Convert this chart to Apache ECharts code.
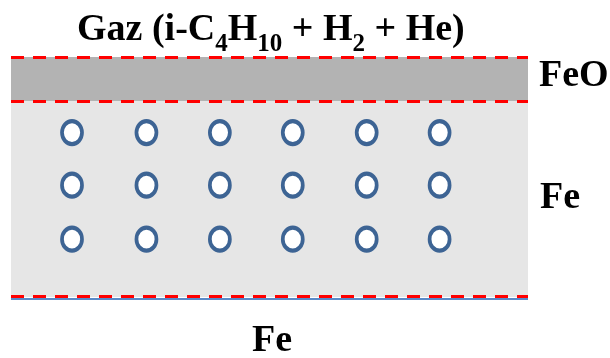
<!DOCTYPE html>
<html><head><meta charset="utf-8">
<script src="https://cdn.jsdelivr.net/npm/echarts@6/dist/echarts.min.js"></script>
<style>html,body{margin:0;padding:0;background:#fff}#c{width:610px;height:358px}</style>
</head><body><div id="c"></div>
<script>
// Layer boundaries (depth units, 0 = metal/substrate interface, 100 = gas interface)
const layerNames = ['Fe', 'FeO'];
const layerFrom = [0, 81.7];
const layerTo = [81.7, 100];
const layerColors = ['#e6e6e6', '#b3b3b3'];
// Interface (dashed) lines
const interfaces = [100, 81.5, 0.2];
// Atom (hole) lattice in Fe layer
const atomCols = [11.8, 26.2, 40.4, 54.5, 68.8, 82.9];
const atomRows = [68.5, 46.6, 24.1];
// Labels
const titleParts = ['Gaz (i-C', '4', 'H', '10', ' + H', '2', ' + He)'];
const labelFeO = 'FeO';
const labelFe = 'Fe';

const atoms = [];
atomRows.forEach(r => atomCols.forEach(c => atoms.push([c, r])));

const chart = echarts.init(document.getElementById('c'), null, {renderer: 'canvas'});
const FONT = '"Liberation Serif", "Times New Roman", serif';
const main = {fontFamily: FONT, fontWeight: 'bold', fontSize: 38, color: '#000', lineHeight: 38, verticalAlign: 'top'};
const sub = {fontFamily: FONT, fontWeight: 'bold', fontSize: 25, color: '#000', lineHeight: 46, verticalAlign: 'bottom'};
const richTitle = titleParts.map((t, i) => (i % 2 === 0 ? '{m|' : '{s|') + t + '}').join('');

chart.setOption({
  animation: false,
  grid: {left: 11, right: 82, top: 57, bottom: 49},
  xAxis: {type: 'value', min: 0, max: 100, show: false},
  yAxis: {type: 'value', min: -5, max: 100, show: false},
  graphic: [
    {type: 'text', left: 77, top: 11, z: 10, style: {text: richTitle, rich: {m: main, s: sub}}},
    {type: 'text', x: 539, y: 76, z: 10, style: {text: labelFeO, font: 'bold 38px ' + FONT, fill: '#000', verticalAlign: 'middle', align: 'left'}},
    {type: 'text', x: 540, y: 198, z: 10, style: {text: labelFe, font: 'bold 38px ' + FONT, fill: '#000', verticalAlign: 'middle', align: 'left'}},
    {type: 'text', x: 252, y: 341, z: 10, style: {text: labelFe, font: 'bold 38px ' + FONT, fill: '#000', verticalAlign: 'middle', align: 'left'}}
  ],
  series: [
    {
      type: 'line', data: [], z: 1, silent: true,
      markArea: {
        silent: true,
        data: layerNames.map((n, i) => [
          {yAxis: layerFrom[i], itemStyle: {color: layerColors[i]}},
          {yAxis: layerTo[i]}
        ])
      }
    },
    {
      type: 'line', data: [], z: 2, silent: true,
      markLine: {
        silent: true, symbol: 'none', label: {show: false},
        data: [
          {yAxis: -0.6, lineStyle: {color: '#5b8ac8', width: 2, type: 'solid'}}
        ].concat(interfaces.map(v => ({yAxis: v, lineStyle: {color: '#ff0000', width: 3, type: [13, 9]}})))
      }
    },
    {
      type: 'scatter', z: 5, silent: true,
      data: atoms,
      symbol: 'path://M50,0 A50,50 0 1 1 49.99,0 Z',
      symbolSize: [20, 23],
      itemStyle: {color: '#ffffff', borderColor: '#3d6494', borderWidth: 4, opacity: 1}
    }
  ]
});
</script></body></html>
